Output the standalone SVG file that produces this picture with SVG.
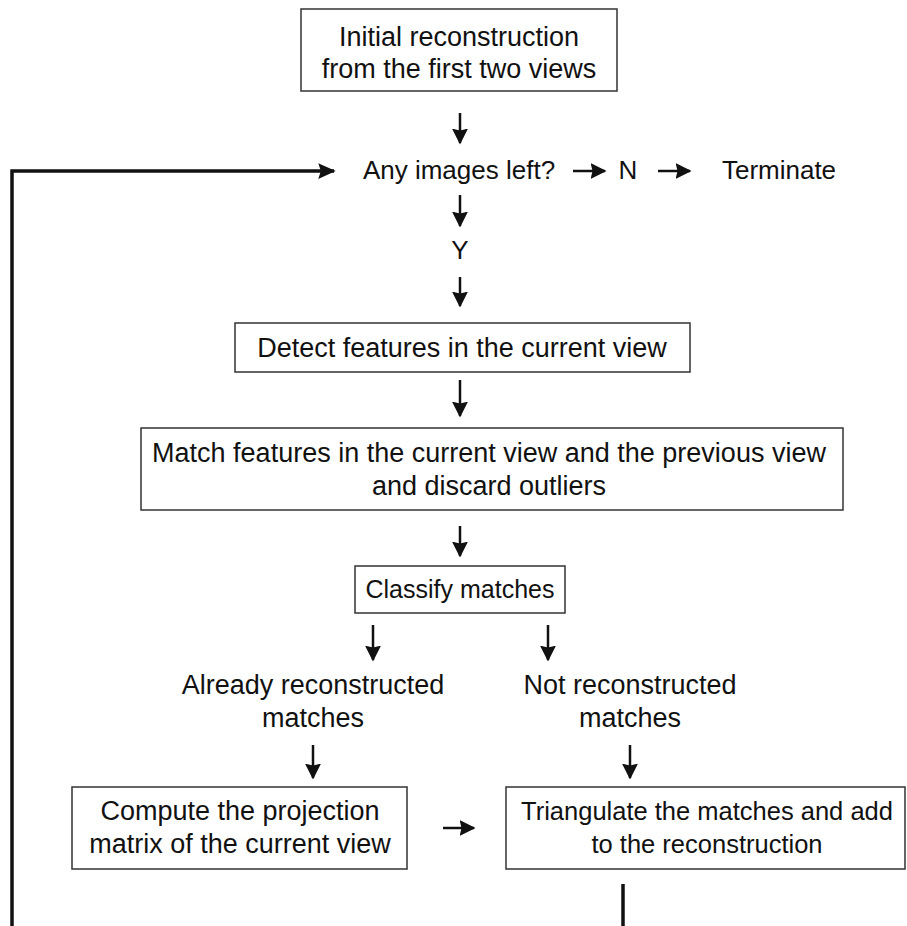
<svg xmlns="http://www.w3.org/2000/svg" width="907" height="926" viewBox="0 0 907 926">
  <defs>
    <marker id="head" viewBox="0 0 10 10" refX="9" refY="5" markerWidth="6.4" markerHeight="6.4" orient="auto" markerUnits="strokeWidth">
      <path d="M0,0 L10,5 L0,10 L1.2,5 Z" fill="#111"/>
    </marker>
    <marker id="headBig" viewBox="0 0 10 10" refX="9" refY="5" markerWidth="5" markerHeight="5" orient="auto" markerUnits="strokeWidth">
      <path d="M0,0.5 L10,5 L0,9.5 L1.5,5 Z" fill="#111"/>
    </marker>
  </defs>
  <style>
    text { font-family: "Liberation Sans", Arial, sans-serif; font-size: 27px; fill: #111; text-anchor: middle; }
    .box { fill: #fff; stroke: #333; stroke-width: 1.5; }
    .arrow { stroke: #111; stroke-width: 2.5; fill: none; marker-end: url(#head); }
    .loop { stroke: #111; stroke-width: 3.5; fill: none; }
  </style>
  <rect width="907" height="926" fill="#fff"/>

  <!-- connectors -->
  <g id="connectors">
    <line class="arrow" x1="460" y1="113" x2="460" y2="143"/>
    <line class="arrow" x1="573" y1="171" x2="605" y2="171"/>
    <line class="arrow" x1="658" y1="171" x2="690" y2="171"/>
    <line class="arrow" x1="460" y1="195" x2="460" y2="226"/>
    <line class="arrow" x1="460" y1="277" x2="460" y2="306"/>
    <line class="arrow" x1="460" y1="380" x2="460" y2="416"/>
    <line class="arrow" x1="460" y1="526" x2="460" y2="556"/>
    <line class="arrow" x1="373" y1="625" x2="373" y2="660"/>
    <line class="arrow" x1="548" y1="625" x2="548" y2="660"/>
    <line class="arrow" x1="313" y1="745" x2="313" y2="778"/>
    <line class="arrow" x1="630" y1="745" x2="630" y2="778"/>
    <line class="arrow" x1="443" y1="828" x2="474" y2="828"/>
    <!-- feedback loop back to the image check -->
    <line class="loop" x1="623" y1="884" x2="623" y2="926"/>
    <polyline class="loop" points="12,926 12,171 334,171" marker-end="url(#headBig)"/>
  </g>

  <g id="initial">
    <rect class="box" x="301" y="9" width="316" height="82"/>
    <text x="459" y="46">Initial reconstruction</text>
    <text x="459" y="78">from the first two views</text>
  </g>

  <g id="images-left">
    <text x="459" y="179" style="font-size:26px">Any images left?</text>
  </g>
  <g id="no">
    <text x="628" y="179" style="font-size:26px">N</text>
  </g>
  <g id="terminate">
    <text x="779" y="179" style="font-size:26px">Terminate</text>
  </g>
  <g id="yes">
    <text x="460" y="259" style="font-size:26px">Y</text>
  </g>

  <g id="detect">
    <rect class="box" x="235" y="323" width="455" height="49"/>
    <text x="462" y="357">Detect features in the current view</text>
  </g>

  <g id="match">
    <rect class="box" x="141" y="428" width="702" height="82"/>
    <text x="489" y="462">Match features in the current view and the previous view</text>
    <text x="489" y="495">and discard outliers</text>
  </g>

  <g id="classify">
    <rect class="box" x="355" y="566" width="210" height="47"/>
    <text x="460" y="598" style="font-size:25px">Classify matches</text>
  </g>

  <g id="already">
    <text x="313" y="694">Already reconstructed</text>
    <text x="313" y="727">matches</text>
  </g>

  <g id="not-reconstructed">
    <text x="630" y="694">Not reconstructed</text>
    <text x="630" y="727">matches</text>
  </g>

  <g id="compute">
    <rect class="box" x="72" y="787" width="335" height="82"/>
    <text x="240" y="820">Compute the projection</text>
    <text x="240" y="853">matrix of the current view</text>
  </g>

  <g id="triangulate">
    <rect class="box" x="506" y="787" width="399" height="82"/>
    <text x="707" y="820" style="font-size:25.5px">Triangulate the matches and add</text>
    <text x="707" y="853" style="font-size:25.5px">to the reconstruction</text>
  </g>
</svg>
